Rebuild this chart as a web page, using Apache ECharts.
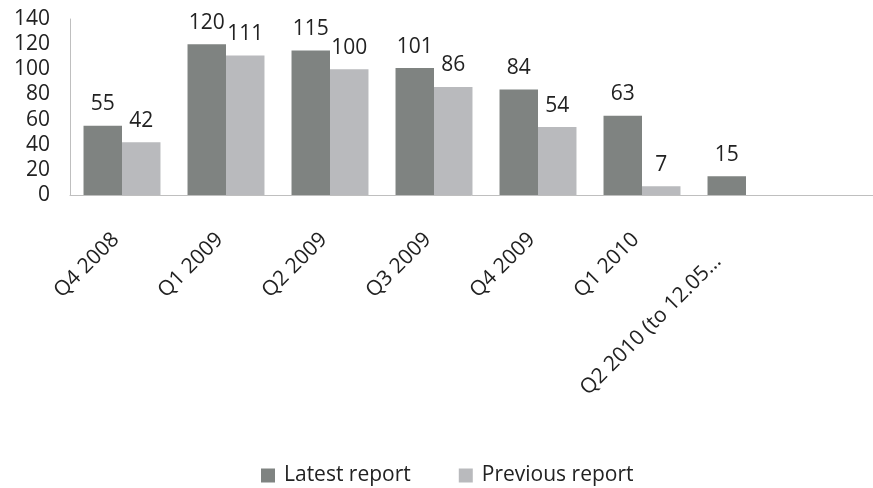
<!DOCTYPE html>
<html lang="en">
<head>
    <meta charset="utf-8">
    <title>Reports by quarter</title>
    <script src="https://cdn.jsdelivr.net/npm/echarts@6/dist/echarts.min.js"></script>
    <style>
        html, body { margin: 0; padding: 0; background: #fff; }
        #chart { width: 873px; height: 488px; }
    </style>
</head>
<body>
<div id="chart"></div>
<script type="text/javascript">
    // data
    var quarters = ['Q4 2008', 'Q1 2009', 'Q2 2009', 'Q3 2009', 'Q4 2009', 'Q1 2010', 'Q2 2010 (to 12.05…', ''];
    var latestReport = [55, 120, 115, 101, 84, 63, 15, null];
    var previousReport = [42, 111, 100, 86, 54, 7, null, null];
    var yTicks = [0, 20, 40, 60, 80, 100, 120, 140];

    var fontFamily = '"Open Sans", "Noto Sans", sans-serif';
    var chart = echarts.init(document.getElementById('chart'));

    var categoryData = quarters.map(function (q, i) {
        // the long last label sits lower in the original
        if (i == 6) {
            return { value: q, textStyle: { padding: [0, 40, 0, 0] } };
        }
        return q;
    });

    var option = {
        animation: false,
        legend: {
            data: ['Latest report', 'Previous report'],
            top: 460,
            left: 256,
            icon: 'rect',
            itemWidth: 14,
            itemHeight: 14,
            itemGap: 48,
            textStyle: { fontFamily: fontFamily, fontSize: 21, color: '#222', padding: [0, 0, 0, 4] }
        },
        grid: {
            left: 70,
            top: 19,
            width: 832,
            height: 176,
            outerBoundsMode: 'none'
        },
        xAxis: {
            type: 'category',
            data: categoryData,
            axisLine: { lineStyle: { color: '#bfbfbf', width: 1 } },
            axisTick: { show: false },
            axisLabel: {
                rotate: 45,
                interval: 0,
                margin: 35,
                padding: [0, 9, 0, 0],
                fontFamily: fontFamily,
                fontSize: 21,
                color: '#222'
            }
        },
        yAxis: {
            type: 'value',
            min: yTicks[0],
            max: yTicks[yTicks.length - 1],
            interval: 20,
            splitLine: { show: false },
            axisLine: { show: true, lineStyle: { color: '#bfbfbf', width: 1 } },
            axisTick: { show: false },
            axisLabel: {
                margin: 20,
                fontFamily: fontFamily,
                fontSize: 21,
                color: '#222',
                padding: [9, 0, 0, 0]
            }
        },
        series: [
            {
                name: 'Latest report',
                type: 'bar',
                data: latestReport,
                barGap: '0%',
                barCategoryGap: '26%',
                itemStyle: { color: '#7f8381' },
                label: {
                    show: true,
                    position: 'top',
                    distance: 11,
                    fontFamily: fontFamily,
                    fontSize: 21,
                    color: '#222'
                }
            },
            {
                name: 'Previous report',
                type: 'bar',
                data: previousReport,
                barGap: '0%',
                barCategoryGap: '26%',
                itemStyle: { color: '#b9babd' },
                label: {
                    show: true,
                    position: 'top',
                    distance: 11,
                    fontFamily: fontFamily,
                    fontSize: 21,
                    color: '#222'
                }
            }
        ]
    };
    chart.setOption(option);
</script>
</body>
</html>
